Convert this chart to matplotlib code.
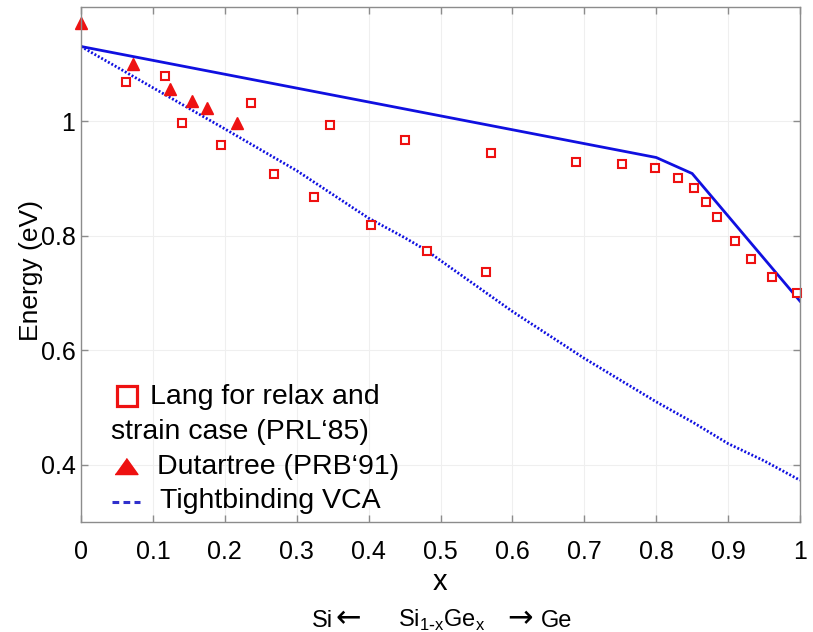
import matplotlib
matplotlib.use("Agg")
import matplotlib.pyplot as plt
from matplotlib.lines import Line2D
from matplotlib import font_manager

# ---------------- data ----------------
lang_x = [0.063, 0.117, 0.140, 0.195, 0.236, 0.268, 0.324, 0.347, 0.403, 0.451,
          0.481, 0.563, 0.570, 0.688, 0.753, 0.798, 0.830, 0.853, 0.869, 0.884,
          0.910, 0.932, 0.961, 0.996]
lang_y = [1.069, 1.080, 0.998, 0.958, 1.032, 0.909, 0.868, 0.994, 0.819, 0.967,
          0.774, 0.737, 0.945, 0.929, 0.926, 0.918, 0.901, 0.883, 0.859, 0.833,
          0.791, 0.759, 0.729, 0.701]

dut_x = [0.0, 0.072, 0.124, 0.154, 0.175, 0.217]
dut_y = [1.172, 1.100, 1.057, 1.036, 1.023, 0.997]

strain_x = [0.0, 0.8, 0.85, 1.0]
strain_y = [1.131, 0.937, 0.909, 0.686]

vca_x = [0.0, 0.1, 0.2, 0.3, 0.4, 0.45, 0.48, 0.5, 0.6, 0.7, 0.8, 0.85, 0.9, 0.95, 1.0]
vca_y = [1.131, 1.059, 0.987, 0.914, 0.831, 0.797, 0.775, 0.757, 0.668, 0.586,
         0.510, 0.475, 0.437, 0.407, 0.373]

xticks = [0, 0.1, 0.2, 0.3, 0.4, 0.5, 0.6, 0.7, 0.8, 0.9, 1.0]
xticklabels = ["0", "0.1", "0.2", "0.3", "0.4", "0.5", "0.6", "0.7", "0.8", "0.9", "1"]
yticks = [0.4, 0.6, 0.8, 1.0]
yticklabels = ["0.4", "0.6", "0.8", "1"]

# ---------------- fonts ----------------
def have(name):
    try:
        font_manager.findfont(font_manager.FontProperties(family=name), fallback_to_default=False)
        return True
    except Exception:
        return False

narrow = have("Liberation Sans Narrow")
tick_family = ["Liberation Sans Narrow", "Liberation Sans", "DejaVu Sans"] if narrow else ["Liberation Sans", "DejaVu Sans"]
tick_size = 20 if narrow else 18
text_family = ["Liberation Sans", "DejaVu Sans"]
plt.rcParams["font.family"] = text_family

W, H = 813, 632
fig = plt.figure(figsize=(W / 100, H / 100), dpi=100)
fig.patch.set_facecolor("white")

ax = fig.add_axes([81 / W, 1 - 522 / H, (800 - 81) / W, (522 - 7) / H])
ax.set_xlim(0, 1)
ax.set_ylim(0.3, 1.2)

ax.grid(True, color="#efefef", linewidth=0.8)
ax.set_axisbelow(True)
for s in ax.spines.values():
    s.set_color("#8c8c8c")
    s.set_linewidth(1.0)
ax.tick_params(direction="in", length=5, width=1, colors="#8c8c8c",
               top=True, right=True, labelcolor="black")
ax.set_xticks(xticks)
ax.set_xticklabels(xticklabels, family=tick_family, fontsize=tick_size)
ax.set_yticks(yticks)
ax.set_yticklabels(yticklabels, family=tick_family, fontsize=tick_size)
ax.tick_params(axis="y", pad=4)
ax.tick_params(axis="x", pad=13)

blue = "#1010e0"
red = "#ee1111"
ax.plot(strain_x, strain_y, color=blue, linewidth=2.0, solid_joinstyle="miter")
ax.plot(vca_x, vca_y, color=blue, linewidth=2.0, linestyle=(0, (0.7, 0.7)))
ax.plot(lang_x, lang_y, linestyle="none", marker="s", markersize=6.2,
        markerfacecolor="white", markeredgecolor=red, markeredgewidth=1.5, clip_on=False)
ax.plot(dut_x, dut_y, linestyle="none", marker="^", markersize=8,
        markerfacecolor=red, markeredgecolor=red, clip_on=False)

# axis labels
fig.text(440 / W, 1 - 582 / H, "x", ha="center", va="center",
         family=tick_family, fontsize=21)
fig.text(31 / W, 1 - 270 / H, "Energy (eV)", rotation=90, ha="center", va="center",
         fontsize=19)

# legend (manual, as in the slide)
def fx(px):
    return px / W

def fy(py):
    return 1 - py / H

LS = 20.5
fig.add_artist(Line2D([fx(127)], [fy(396)], marker="s", markersize=14.5,
                      markerfacecolor="white", markeredgecolor=red, markeredgewidth=2.3,
                      linestyle="none"))
fig.text(fx(150), fy(397), "Lang for relax and", ha="left", va="center", fontsize=LS)
fig.text(fx(111), fy(432), "strain case (PRL\u201885)", ha="left", va="center", fontsize=LS)
fig.add_artist(Line2D([fx(126)], [fy(466)], marker=[(-1, -0.7), (1, -0.7), (0, 0.7)],
                      markersize=16.5, markerfacecolor=red, markeredgecolor=red,
                      linestyle="none"))
fig.text(fx(157), fy(467), "Dutartree (PRB\u201891)", ha="left", va="center", fontsize=LS)
fig.add_artist(Line2D([fx(112), fx(140)], [fy(502), fy(502)], color="#3030cc",
                      linewidth=2.2, linestyle=(0, (2.2, 1.4))))
fig.text(fx(160), fy(501), "Tightbinding VCA", ha="left", va="center", fontsize=LS)

# bottom caption
base = fy(627)
CS = 17
fig.text(fx(312), base, "Si", ha="left", va="baseline", fontsize=CS)
fig.text(fx(335), base, "\u2190", ha="left", va="baseline", fontsize=22, family="DejaVu Sans")
fig.text(fx(398), base, r"Si$_{\mathregular{1\text{-}x}}$Ge$_{\mathregular{x}}$",
         ha="left", va="baseline", fontsize=CS)
fig.text(fx(507), base, "\u2192", ha="left", va="baseline", fontsize=22, family="DejaVu Sans")
fig.text(fx(541), base, "Ge", ha="left", va="baseline", fontsize=CS)

fig.savefig("out.png", dpi=100, facecolor="white")
